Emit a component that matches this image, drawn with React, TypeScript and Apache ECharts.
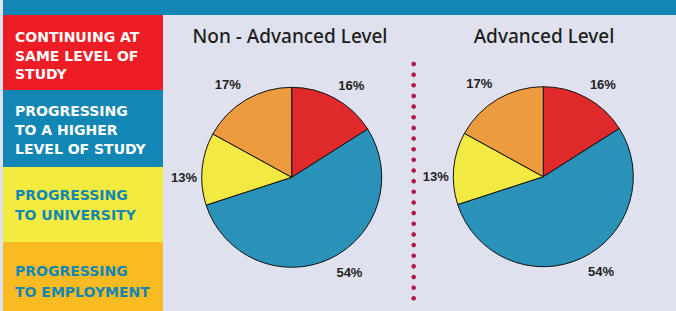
import React, { useEffect, useRef } from "react";
import * as echarts from "echarts";

const categories = [
  "Continuing at same level of study",
  "Progressing to a higher level of study",
  "Progressing to university",
  "Progressing to employment",
];
const nonAdvancedValues = [16, 54, 13, 17];
const advancedValues = [16, 54, 13, 17];
const pieTitles = ["Non - Advanced Level", "Advanced Level"];
const legendLines = [
  ["CONTINUING AT", "SAME LEVEL OF", "STUDY"],
  ["PROGRESSING", "TO A HIGHER", "LEVEL OF STUDY"],
  ["PROGRESSING", "TO UNIVERSITY"],
  ["PROGRESSING", "TO EMPLOYMENT"],
];

const sliceColors = ["#E0292B", "#2A92B8", "#F2EA42", "#EC9C3E"];
const boxColors = ["#EE1C25", "#1287B5", "#F3EB3F", "#F9BB21"];
const boxTextColors = ["#FFFFFF", "#FFFFFF", "#1287B5", "#1287B5"];
const boxTops = [15, 90, 167, 242, 311];
const boxTextY = [[37, 55.5, 74], [111, 130, 149], [195, 215], [271, 292]];
const labelLens = [15, 15, 5, 16];
const labelShift = [[-4, 0], [0, 0], [0, 9], [3, -2]];

export default function App() {
  const ref = useRef<HTMLDivElement>(null);
  useEffect(() => {
    document.body.style.margin = "0";
    if (!ref.current) return;
    const chart = echarts.init(ref.current, null, { renderer: "svg" });

    const makeData = (vals: number[]) =>
      vals.map((v, i) => ({
        name: categories[i],
        value: v,
        itemStyle: { color: sliceColors[i] },
        labelLine: { show: false, length: labelLens[i], length2: 0 },
      }));

    const pieSeries = (vals: number[], cx: number, cy: number) => ({
      type: "pie",
      center: [cx, cy],
      radius: 90,
      startAngle: 90,
      clockwise: true,
      avoidLabelOverlap: false,
      itemStyle: { borderColor: "#111", borderWidth: 1 },
      label: {
        show: true,
        position: "outside",
        formatter: "{c}%",
        fontFamily: "Liberation Sans, Arial, sans-serif",
        fontWeight: "bold",
        fontSize: 13,
        color: "#222",
        distanceToLabelLine: 0,
      },
      labelLayout: (p: any) => ({ dx: labelShift[p.dataIndex][0], dy: labelShift[p.dataIndex][1] }),
      emphasis: { disabled: true },
      data: makeData(vals),
    });

    const graphics: any[] = [
      { type: "rect", shape: { x: 0, y: 0, width: 676, height: 311 }, style: { fill: "#DFE2EE" }, silent: true },
      { type: "rect", shape: { x: 3, y: 0, width: 673, height: 15 }, style: { fill: "#1287B5" }, silent: true },
    ];
    boxColors.forEach((c, i) => {
      graphics.push({
        type: "rect",
        shape: { x: 3, y: boxTops[i], width: 160, height: boxTops[i + 1] - boxTops[i] },
        style: { fill: c },
        silent: true,
      });
      legendLines[i].forEach((t, j) => {
        graphics.push({
          type: "text",
          x: 15,
          y: boxTextY[i][j],
          style: {
            text: t,
            fill: boxTextColors[i],
            font: "bold 14px 'DejaVu Sans', sans-serif",
            verticalAlign: "middle",
          },
          silent: true,
        });
      });
    });
    for (let k = 0; k < 23; k++) {
      graphics.push({
        type: "circle",
        shape: { cx: 413.7, cy: 64 + k * 10.65, r: 2.3 },
        style: { fill: "#B8154A" },
        silent: true,
      });
    }

    const titleStyle = { fontFamily: "Noto Sans, sans-serif", fontWeight: 500, fontSize: 19, color: "#1d1d1d" };
    chart.setOption({
      animation: false,
      graphic: graphics,
      title: [
        { text: pieTitles[0], left: 285, top: 21, textAlign: "center", textStyle: titleStyle },
        { text: pieTitles[1], left: 539, top: 21, textAlign: "center", textStyle: titleStyle },
      ],
      series: [pieSeries(nonAdvancedValues, 291.7, 177.3), pieSeries(advancedValues, 543.3, 176.7)],
    });
    return () => chart.dispose();
  }, []);
  return <div ref={ref} style={{ width: 676, height: 311 }} />;
}
